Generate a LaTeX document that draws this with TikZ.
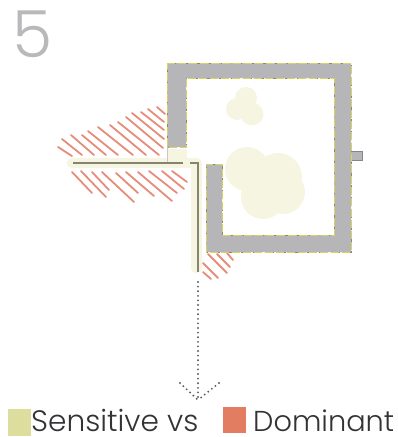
\documentclass[tikz,border=0pt]{standalone}
\usepackage{fontspec}
\setmainfont{Poppins}[UprightFont=* Light]
\definecolor{wallgray}{HTML}{B6B6B9}
\definecolor{dashyellow}{HTML}{DAD45E}
\definecolor{dashgray}{HTML}{85858A}
\definecolor{palefill}{HTML}{F5F5E1}
\definecolor{doorline}{HTML}{85856F}
\definecolor{hatchred}{HTML}{E68C7A}
\definecolor{sensitive}{HTML}{DDDD9D}
\definecolor{dominant}{HTML}{E27D62}
\definecolor{labelgray}{HTML}{B9B9BB}
\definecolor{labeltext}{HTML}{333336}

\begin{document}
\begin{tikzpicture}[
    x=1pt, y=-1pt,
    % Stili
    wall/.style={fill=wallgray, draw=none},
    walldash/.style={draw=dashgray, line width=0.9pt, dash pattern=on 3pt off 3pt},
    wallyellow/.style={draw=dashyellow, line width=1pt, dash pattern=on 8pt off 3pt},
    blob/.style={fill=palefill, draw=none},
    band/.style={draw=palefill, line width=10.5pt, line cap=round, line join=round},
    door/.style={draw=doorline, line width=1.5pt},
    hatchline/.style={draw=hatchred, line width=1.8pt, line cap=round},
    dots/.style={draw=dashgray!70!black, line width=2.1pt, line cap=round, dash pattern=on 0pt off 4.6pt},
    swatch/.style={rectangle, draw=none, inner sep=0pt, minimum width=23pt},
    legend/.style={inner sep=0pt, anchor=base west, text=labeltext}
]
    \useasboundingbox (0,0) rectangle (398,437);

    % ==================== NUMERO ====================
    \node [inner sep=0pt, anchor=base west, text=labelgray, font=\fontsize{65}{67}\selectfont] (number) at (12,57) {5};

    % ==================== MACCHIE ====================
    \foreach \cx/\cy/\rad in {246/98/11, 237/109/11, 252/114/11.5,
                              247/169/22, 263/197/22, 278/177/24, 283/192/22}
        \fill [blob] (\cx,\cy) circle (\rad);

    % ==================== TRATTEGGIO ====================
    \foreach \xa/\ya/\xb/\yb in {157/107/165/114, 148/109/164/122, 141/112/164/130, 132/113/164/139,
                                 126/117/163/148, 118/122/159/155, 110/125/146/155, 98/127/133/155,
                                 88/131/118/155, 82/135/106/155, 71/135/94/155, 62/139/82/155, 58/147/72/156,
                                 72/172/92/193, 81/171/106/197, 92/172/109/190, 102/172/134/202,
                                 116/173/138/193, 126/172/154/196, 138/172/172/201, 149/171/177/193,
                                 162/171/184/189, 172/171/187/182,
                                 227/253/233/260, 217/254/230/267, 208/254/227/273, 203/263/218/278, 203/272/211/279}
        \draw [hatchline] (\xa,\ya) -- (\xb,\yb);

    % ==================== PARETI ====================
    \path [wall] (351,151) rectangle (362,160);
    \draw [draw=dashgray, line width=0.8pt] (351,151) -- (362,151) -- (362,160) -- (351,160);
    \def\wallpath{(167,63) -- (351,63) -- (351,252) -- (206,252) -- (206,164) -- (222,164) -- (222,235)
        -- (334,235) -- (334,78) -- (186,78) -- (186,147) -- (167,147) -- cycle}
    \path [wall] \wallpath;
    \draw [walldash] \wallpath;
    \draw [wallyellow] \wallpath;

    % ==================== PORTA ====================
    \fill [palefill] (167,149) rectangle (187,162);
    \draw [band] (72,163) -- (196.5,163) -- (196.5,268);
    \draw [draw=wallgray!70!palefill, line width=0.6pt] (167,147) -- (167,163);
    \draw [door] (73,163) -- (183,163);
    \draw [door] (190,163) -- (198,163) -- (198,272);

    % ==================== FRECCIA ====================
    \coordinate (door_end) at (198,282);
    \coordinate (arrow_tip) at (198,400);
    \coordinate (tip_left) at (180,383);
    \coordinate (tip_right) at (219,383);
    \draw [dots] (door_end) -- (arrow_tip);
    \draw [dots] (tip_left) -- (arrow_tip);
    \draw [dots] (tip_right) -- (arrow_tip);

    % ==================== LEGENDA ====================
    \node [swatch, fill=sensitive, minimum height=27pt, anchor=north west] (sensitive_box) at (8,409) {};
    \node [swatch, fill=dominant, minimum height=26pt, anchor=north west] (dominant_box) at (223,407) {};
    \node [legend, font=\fontsize{29.6}{31}\selectfont] (sensitive_label) at (31,431.5) {Sensitive vs};
    \node [legend, font=\fontsize{28.8}{31}\selectfont] (dominant_label) at (253,431.5) {Dominant};
\end{tikzpicture}
\end{document}
